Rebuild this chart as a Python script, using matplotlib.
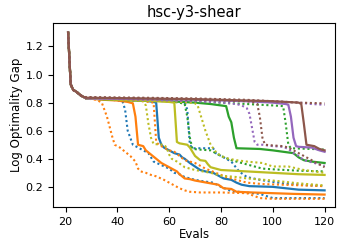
import matplotlib
matplotlib.use("Agg")
import matplotlib.pyplot as plt

# shared start of every run (first evals, before the curves split)
head_x = [21, 22, 23, 24, 25, 26, 27]
head_y = [1.30, 0.93, 0.89, 0.88, 0.865, 0.85, 0.84]

# each method: solid = median, dotted = lower / upper band
blue_mid_x = [28, 40, 50, 54, 55, 56, 57, 58, 60, 62, 64, 65, 66, 68, 70, 72, 74, 77, 79, 81, 84, 86, 88, 91, 100, 105, 110, 120]
blue_mid_y = [.83, .82, .815, .805, .80, .55, .50, .48, .46, .44, .43, .41, .40, .37, .345, .32, .31, .30, .28, .26, .25, .23, .215, .205, .20, .19, .18, .175]
blue_lo_x = [28, 38, 42, 43, 44, 45, 46, 48, 50, 52, 54, 57, 60, 62, 64, 66, 70, 73, 77, 80, 84, 95, 100, 120]
blue_lo_y = [.83, .82, .81, .75, .60, .55, .50, .48, .46, .44, .38, .355, .33, .30, .29, .27, .25, .24, .23, .20, .17, .15, .12, .12]
blue_hi_x = [28, 50, 60, 66, 67, 68, 69, 77, 78, 80, 84, 87, 90, 95, 100, 104, 110, 120]
blue_hi_y = [.83, .82, .81, .80, .75, .50, .475, .475, .44, .42, .38, .31, .27, .25, .235, .225, .215, .205]

orange_mid_x = [28, 35, 40, 44, 46, 47, 48, 50, 51, 53, 55, 57, 59, 61, 63, 64, 66, 68, 70, 73, 76, 79, 81, 84, 86, 92, 100, 108, 120]
orange_mid_y = [.83, .82, .815, .805, .795, .70, .50, .49, .46, .43, .40, .37, .35, .33, .31, .29, .26, .255, .245, .235, .225, .215, .19, .185, .165, .16, .155, .15, .145]
orange_lo_x = [28, 32, 34, 36, 38, 39, 41, 43, 45, 47, 48, 49, 51, 53, 55, 58, 60, 62, 64, 66, 68, 72, 80, 90, 95, 100, 120]
orange_lo_y = [.83, .82, .80, .70, .56, .50, .48, .45, .42, .38, .33, .31, .30, .285, .275, .25, .23, .21, .19, .175, .165, .16, .16, .155, .12, .115, .115]
orange_hi_x = [28, 40, 50, 54, 55, 56, 58, 60, 62, 64, 66, 70, 74, 78, 82, 86, 90, 96, 104, 112, 120]
orange_hi_y = [.83, .82, .81, .80, .52, .50, .48, .46, .45, .42, .39, .37, .33, .30, .27, .25, .23, .22, .215, .21, .205]

green_mid_x = [28, 40, 50, 60, 70, 76, 80, 82, 83, 84, 85, 86, 95, 100, 104, 108, 110, 112, 115, 120]
green_mid_y = [.83, .82, .815, .81, .80, .79, .78, .775, .70, .66, .55, .475, .47, .46, .45, .44, .41, .39, .38, .37]
green_lo_x = [28, 40, 50, 60, 64, 66, 67, 68, 69, 72, 76, 78, 80, 84, 88, 92, 96, 100, 110, 120]
green_lo_y = [.83, .82, .815, .81, .80, .79, .70, .55, .47, .465, .46, .44, .42, .39, .37, .35, .33, .325, .315, .31]
green_hi_x = [28, 50, 70, 90, 100, 104, 105, 106, 107, 115, 120]
green_hi_y = [.83, .82, .81, .79, .78, .775, .65, .50, .475, .47, .465]

olive_mid_x = [28, 40, 50, 60, 62, 63, 64, 67, 68, 69, 70, 72, 74, 75, 76, 80, 85, 90, 100, 110, 120]
olive_mid_y = [.83, .82, .815, .805, .80, .52, .51, .50, .48, .45, .42, .39, .385, .36, .34, .32, .315, .31, .30, .29, .285]
olive_lo_x = [28, 40, 48, 50, 51, 52, 53, 54, 58, 59, 60, 61, 63, 66, 70, 76, 80, 86, 90, 100, 110, 120]
olive_lo_y = [.83, .82, .815, .81, .78, .65, .55, .505, .50, .48, .43, .40, .38, .34, .32, .30, .28, .27, .26, .245, .225, .21]
olive_hi_x = [28, 50, 60, 68, 70, 71, 72, 74, 76, 78, 80, 83, 86, 90, 96, 100, 106, 112, 120]
olive_hi_y = [.83, .82, .81, .80, .795, .78, .72, .60, .50, .45, .42, .40, .39, .38, .37, .345, .345, .32, .30]

purple_mid_x = [28, 50, 70, 90, 100, 105, 106, 107, 108, 109, 110, 115, 118, 120]
purple_mid_y = [.83, .825, .82, .81, .80, .79, .785, .70, .55, .49, .485, .48, .46, .45]
purple_lo_x = [28, 50, 70, 80, 86, 88, 90, 91, 92, 93, 94, 96, 100, 104, 106, 108, 110, 112, 116, 120]
purple_lo_y = [.83, .82, .81, .80, .79, .78, .76, .72, .62, .52, .50, .50, .49, .485, .47, .44, .42, .39, .37, .35]
purple_hi_x = [28, 50, 70, 90, 100, 110, 115, 120]
purple_hi_y = [.835, .83, .825, .815, .81, .80, .79, .785]

brown_mid_x = [28, 50, 70, 90, 100, 110, 111, 112, 113, 116, 118, 120]
brown_mid_y = [.835, .83, .825, .815, .81, .80, .79, .65, .50, .49, .47, .46]
brown_lo_x = [28, 50, 70, 90, 93, 94, 95, 96, 97, 100, 104, 106, 108, 110, 114, 118, 120]
brown_lo_y = [.835, .83, .82, .81, .80, .79, .70, .55, .50, .495, .49, .48, .46, .44, .40, .36, .34]
brown_hi_x = [28, 50, 70, 90, 100, 110, 120]
brown_hi_y = [.84, .835, .83, .82, .81, .80, .795]

methods = [
    ("tab:blue", blue_mid_x, blue_mid_y, blue_lo_x, blue_lo_y, blue_hi_x, blue_hi_y),
    ("tab:orange", orange_mid_x, orange_mid_y, orange_lo_x, orange_lo_y, orange_hi_x, orange_hi_y),
    ("tab:green", green_mid_x, green_mid_y, green_lo_x, green_lo_y, green_hi_x, green_hi_y),
    ("tab:olive", olive_mid_x, olive_mid_y, olive_lo_x, olive_lo_y, olive_hi_x, olive_hi_y),
    ("tab:purple", purple_mid_x, purple_mid_y, purple_lo_x, purple_lo_y, purple_hi_x, purple_hi_y),
    ("tab:brown", brown_mid_x, brown_mid_y, brown_lo_x, brown_lo_y, brown_hi_x, brown_hi_y),
]

fig = plt.figure(figsize=(3.38, 2.43), dpi=100)
ax = fig.add_axes([0.157, 0.149, 0.834, 0.758])

dotted = (0, (1, 1.3))
for color, mx, my, lx, ly, hx, hy in methods:
    ax.plot(head_x + lx, head_y + ly, color=color, ls=dotted, lw=1.5)
    ax.plot(head_x + hx, head_y + hy, color=color, ls=dotted, lw=1.5)
    ax.plot(head_x + mx, head_y + my, color=color, lw=1.6)

ax.set_xlim(15.2, 124)
ax.set_ylim(0.058, 1.37)
ax.set_xticks([20, 40, 60, 80, 100, 120])
ax.set_yticks([0.2, 0.4, 0.6, 0.8, 1.0, 1.2])
ax.tick_params(labelsize=8, length=3.5)
ax.set_xlabel("Evals", fontsize=8.5, labelpad=1)
ax.set_ylabel("Log Optimality Gap", fontsize=8.5, labelpad=2)
ax.set_title("hsc-y3-shear", fontsize=10.5, pad=4)

fig.savefig("out.png", dpi=100)
